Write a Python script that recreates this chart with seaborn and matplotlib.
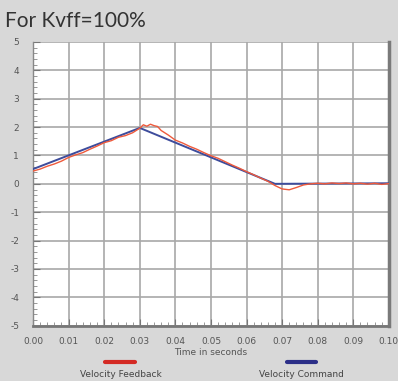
import matplotlib
matplotlib.use("Agg")
import matplotlib.pyplot as plt
import seaborn as sns
import pandas as pd
import numpy as np
from matplotlib.lines import Line2D
from matplotlib.ticker import MultipleLocator

# ---- data ----
cmd_time = [0.000, 0.030, 0.068, 0.100]
cmd_vel = [0.52, 1.97, 0.00, 0.02]

fb_time = [0.000, 0.002, 0.004, 0.006, 0.008, 0.010, 0.012, 0.014, 0.016, 0.018,
           0.020, 0.022, 0.024, 0.026, 0.028, 0.030, 0.031, 0.032, 0.033, 0.034,
           0.035, 0.036, 0.038, 0.040, 0.042, 0.044, 0.046, 0.048, 0.050, 0.052,
           0.054, 0.056, 0.058, 0.060, 0.062, 0.064, 0.066, 0.068, 0.070, 0.072,
           0.074, 0.076, 0.078, 0.080, 0.082, 0.084, 0.086, 0.088, 0.090, 0.092,
           0.094, 0.096, 0.098, 0.100]
fb_vel = [0.45, 0.52, 0.62, 0.70, 0.80, 0.93, 1.02, 1.10, 1.22, 1.33,
          1.45, 1.52, 1.64, 1.70, 1.80, 1.96, 2.08, 2.03, 2.10, 2.05,
          2.02, 1.88, 1.72, 1.54, 1.44, 1.32, 1.22, 1.10, 0.99, 0.90,
          0.78, 0.66, 0.55, 0.43, 0.32, 0.20, 0.09, -0.06, -0.18, -0.21,
          -0.13, -0.04, 0.00, 0.02, 0.00, 0.03, 0.01, 0.03, 0.00, 0.02,
          -0.01, 0.02, -0.02, 0.01]

x_ticks = [0.00, 0.01, 0.02, 0.03, 0.04, 0.05, 0.06, 0.07, 0.08, 0.09, 0.10]
y_ticks = [-5, -4, -3, -2, -1, 0, 1, 2, 3, 4, 5]

title = "For Kvff=100%"
xlabel = "Time in seconds"
fb_label = "Velocity Feedback"
cmd_label = "Velocity Command"

fb_color = "#ee5a3c"
cmd_color = "#3d4c9c"

# ---- figure ----
sns.set_style("white")
fig = plt.figure(figsize=(3.98, 3.81), dpi=100, facecolor="#d8d8d8")
ax = fig.add_axes([0.083, 0.145, 0.894, 0.745])
ax.set_facecolor("white")

df_cmd = pd.DataFrame({"t": cmd_time, "v": cmd_vel})
df_fb = pd.DataFrame({"t": fb_time, "v": fb_vel})
sns.lineplot(data=df_cmd, x="t", y="v", ax=ax, color=cmd_color, lw=1.4, zorder=3)
sns.lineplot(data=df_fb, x="t", y="v", ax=ax, color=fb_color, lw=1.0, zorder=4)

ax.set_xlim(0, 0.1)
ax.set_ylim(-5, 5)
ax.set_xticks(x_ticks)
ax.set_xticklabels([f"{v:.2f}" for v in x_ticks])
ax.set_yticks(y_ticks)
ax.set_yticklabels([str(v) for v in y_ticks])
ax.xaxis.set_minor_locator(MultipleLocator(0.002))
ax.yaxis.set_minor_locator(MultipleLocator(0.2))
ax.grid(True, which="major", color="#a8a8a8", lw=1.2)
ax.tick_params(axis="both", which="major", labelsize=6.5, labelcolor="#555555",
               direction="in", length=5, color="#777777", width=0.8)
ax.tick_params(axis="x", which="major", pad=8)
ax.tick_params(axis="y", which="major", pad=10)
ax.tick_params(axis="both", which="minor", direction="in", length=3,
               color="#888888", width=0.6)
ax.tick_params(axis="y", which="both", left=True)
ax.tick_params(axis="x", which="both", bottom=True)

ax.spines["top"].set_visible(False)
ax.spines["left"].set_color("#888888")
ax.spines["left"].set_linewidth(1.0)
ax.spines["bottom"].set_color("#777777")
ax.spines["bottom"].set_linewidth(2.0)
ax.spines["right"].set_color("#7a7a7a")
ax.spines["right"].set_linewidth(2.5)

ax.set_xlabel(xlabel, fontsize=6.5, color="#555555", labelpad=1.5)
ax.set_ylabel("")

fig.text(0.012, 0.945, title, fontsize=15, color="#333333",
         family=["Lato", "DejaVu Sans"], va="center", ha="left")

# legend: line above text
fig.add_artist(Line2D([0.265, 0.34], [0.05, 0.05], transform=fig.transFigure,
                      color="#d42a24", lw=3))
fig.text(0.303, 0.018, fb_label, fontsize=6.5, color="#444444", ha="center", va="center")
fig.add_artist(Line2D([0.72, 0.795], [0.05, 0.05], transform=fig.transFigure,
                      color="#2c2f88", lw=3))
fig.text(0.757, 0.018, cmd_label, fontsize=6.5, color="#444444", ha="center", va="center")

fig.savefig("out.png", dpi=100, facecolor=fig.get_facecolor())
